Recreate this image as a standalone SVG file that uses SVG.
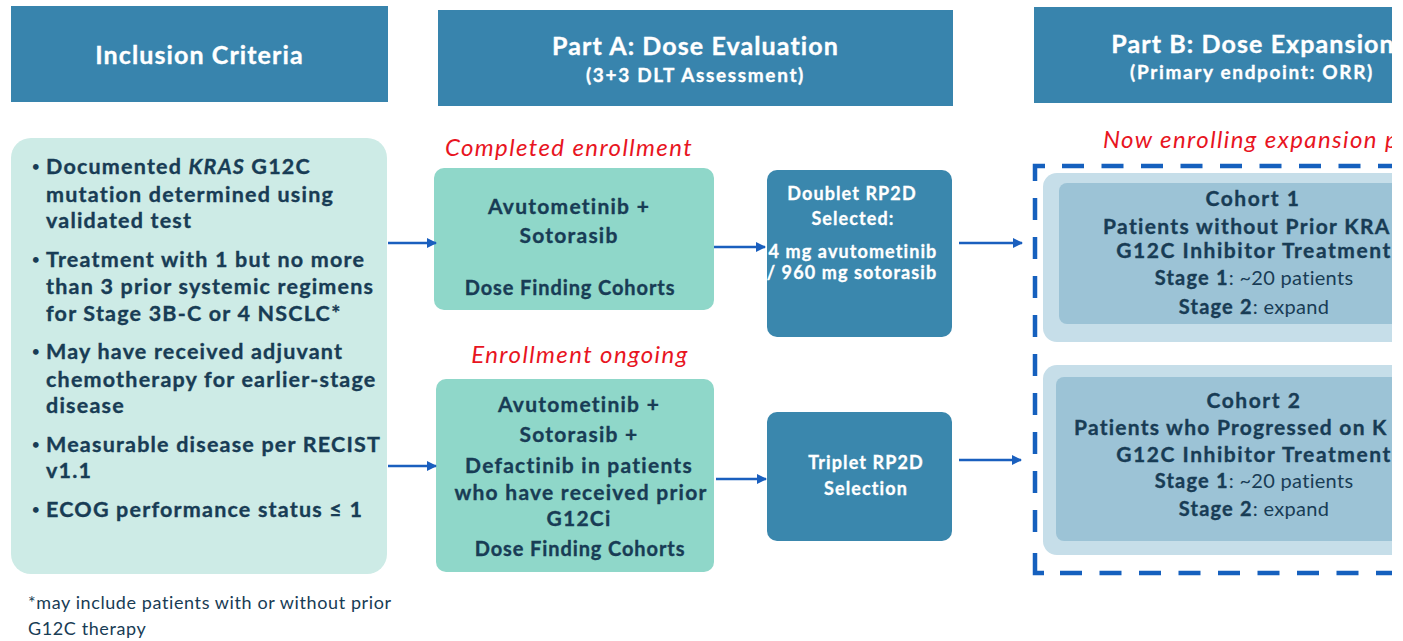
<svg xmlns="http://www.w3.org/2000/svg" width="1403" height="641" viewBox="0 0 1403 641">
<style>
.hdr{fill:#3884AD}
.hdrt{font-family:Lato,"Liberation Sans",sans-serif;font-weight:700;fill:#ffffff;text-anchor:middle;stroke:#ffffff;stroke-width:0.35px}
.h1{font-size:25px;letter-spacing:1.1px}
.h2{font-size:19px;letter-spacing:1.65px}
.t{font-family:Lato,"Liberation Sans",sans-serif;fill:#183C55}
.b{font-weight:700}
.c{text-anchor:middle}
.lb{font-size:21.5px;letter-spacing:1.2px;font-weight:700;stroke:#183C55;stroke-width:0.35px}
.bul{font-size:13px;font-weight:700}
.fn{font-size:18px;letter-spacing:0.6px}
.mb{font-size:21px;letter-spacing:1.25px;font-weight:700;text-anchor:middle;stroke:#183C55;stroke-width:0.35px}
.mbs{font-size:20px;letter-spacing:0.9px;font-weight:700;text-anchor:middle;stroke:#183C55;stroke-width:0.35px}
.w{fill:#ffffff;font-family:Lato,"Liberation Sans",sans-serif;font-weight:700;text-anchor:middle;font-size:18px;letter-spacing:1.1px;stroke:#ffffff;stroke-width:0.3px}
.red{font-family:Lato,"Liberation Sans",sans-serif;font-style:italic;fill:#E8151F;font-size:24px;letter-spacing:1.4px}
.cb{font-size:21px;letter-spacing:1.55px;font-weight:700;stroke:#183C55;stroke-width:0.35px}
.cs{font-size:20px;letter-spacing:0.3px;text-anchor:middle}
.cs tspan{font-weight:700;letter-spacing:1.2px;stroke:#183C55;stroke-width:0.35px}
.mint{fill:#8FD7C9}
.blue{fill:#3A87AD}
.conn{stroke:#1A5FBE;stroke-width:2.5;fill:none;marker-end:url(#ah)}
.dash{stroke:#1560BE;stroke-width:4.5;fill:none}
</style>
<defs>
<marker id="ah" viewBox="0 0 10 10" refX="9" refY="5" markerWidth="4" markerHeight="4" orient="auto" markerUnits="strokeWidth">
<path d="M0,0 L10,5 L0,10 z" fill="#1A5FBE"/>
</marker>
<clipPath id="clip"><rect x="0" y="0" width="1392" height="641"/></clipPath>
</defs>
<rect x="0" y="0" width="1403" height="641" fill="#ffffff"/>

<g id="header-inclusion">
<rect class="hdr" x="11" y="6" width="377" height="96"/>
<text class="hdrt h1" x="199.5" y="64">Inclusion Criteria</text>
</g>
<g id="header-partA">
<rect class="hdr" x="438" y="10" width="515" height="96"/>
<text class="hdrt h1" x="695.5" y="55">Part A: Dose Evaluation</text>
<text class="hdrt h2" x="695.5" y="82">(3+3 DLT Assessment)</text>
</g>
<g id="header-partB" clip-path="url(#clip)">
<rect class="hdr" x="1034" y="7" width="400" height="96"/>
<text class="hdrt h1" x="1253" y="53">Part B: Dose Expansion</text>
<text class="hdrt h2" x="1252" y="79">(Primary endpoint: ORR)</text>
</g>

<g id="inclusion-box">
<rect x="11" y="138" width="376" height="436" rx="20" fill="#CDEBE6"/>
<g class="t">
<text class="bul" x="32" y="171">•</text>
<text class="lb" x="46" y="174">Documented <tspan font-style="italic">KRAS</tspan> G12C</text>
<text class="lb" x="46" y="202">mutation determined using</text>
<text class="lb" x="46" y="228">validated test</text>
<text class="bul" x="32" y="264">•</text>
<text class="lb" x="46" y="267">Treatment with 1 but no more</text>
<text class="lb" x="46" y="294">than 3 prior systemic regimens</text>
<text class="lb" x="46" y="321">for Stage 3B-C or 4 NSCLC*</text>
<text class="bul" x="32" y="356">•</text>
<text class="lb" x="46" y="359">May have received adjuvant</text>
<text class="lb" x="46" y="387">chemotherapy for earlier-stage</text>
<text class="lb" x="46" y="413">disease</text>
<text class="bul" x="32" y="449">•</text>
<text class="lb" x="46" y="452">Measurable disease per RECIST</text>
<text class="lb" x="46" y="478">v1.1</text>
<text class="bul" x="32" y="514">•</text>
<text class="lb" x="46" y="517">ECOG performance status ≤ 1</text>
</g>
</g>
<g id="footnote">
<text class="t fn" x="28" y="609">*may include patients with or without prior</text>
<text class="t fn" x="28" y="635">G12C therapy</text>
</g>

<g id="label-completed">
<text class="red c" x="569" y="156">Completed enrollment</text>
</g>
<g id="doublet-cohorts">
<rect class="mint" x="434" y="168" width="280" height="142" rx="10"/>
<text class="t mb" x="569" y="214">Avutometinib +</text>
<text class="t mb" x="569" y="243">Sotorasib</text>
<text class="t mbs" x="570" y="295">Dose Finding Cohorts</text>
</g>
<g id="doublet-rp2d">
<rect class="blue" x="767" y="170" width="185" height="167" rx="10"/>
<text class="w" x="852" y="200">Doublet RP2D</text>
<text class="w" x="853" y="225">Selected:</text>
<text class="w" x="853" y="258">4 mg avutometinib</text>
<text class="w" x="852" y="279">/ 960 mg sotorasib</text>
</g>

<g id="label-ongoing">
<text class="red c" x="580" y="363">Enrollment ongoing</text>
</g>
<g id="triplet-cohorts">
<rect class="mint" x="436" y="379" width="278" height="193" rx="10"/>
<text class="t mb" x="579" y="412">Avutometinib +</text>
<text class="t mb" x="579" y="442">Sotorasib +</text>
<text class="t mb" x="579" y="473">Defactinib in patients</text>
<text class="t mb" x="581" y="500">who have received prior</text>
<text class="t mb" x="579" y="526">G12Ci</text>
<text class="t mbs" x="580" y="556">Dose Finding Cohorts</text>
</g>
<g id="triplet-rp2d">
<rect class="blue" x="767" y="412" width="185" height="129" rx="10"/>
<text class="w" x="866" y="469">Triplet RP2D</text>
<text class="w" x="866" y="495">Selection</text>
</g>

<g id="label-now-enrolling" clip-path="url(#clip)">
<text class="red" x="1103" y="148">Now enrolling expansion p</text>
</g>

<g id="expansion-frame" clip-path="url(#clip)">
<path class="dash" d="M1035,181 V166 H1045"/>
<path class="dash" d="M1062,166 H1400" stroke-dasharray="22 17.5"/>
<path class="dash" d="M1035,198 V540" stroke-dasharray="22 17"/>
<path class="dash" d="M1035,553 V573 H1044"/>
<path class="dash" d="M1060,573 H1400" stroke-dasharray="22 17.5"/>
</g>

<g id="cohort1" clip-path="url(#clip)">
<rect x="1043" y="173" width="420" height="169" rx="14" fill="#C6DEE9"/>
<rect x="1059" y="183" width="390" height="141" rx="8" fill="#9CC3D6"/>
<g class="t">
<text class="cb c" x="1253" y="206">Cohort 1</text>
<text class="cb" x="1103" y="234" textLength="288" lengthAdjust="spacing">Patients without Prior KRA</text>
<text class="cb c" x="1254" y="258">G12C Inhibitor Treatment</text>
<text class="cs" x="1254" y="285"><tspan>Stage 1</tspan>: ~20 patients</text>
<text class="cs" x="1254" y="314"><tspan>Stage 2</tspan>: expand</text>
</g>
</g>
<g id="cohort2" clip-path="url(#clip)">
<rect x="1043" y="365" width="420" height="190" rx="14" fill="#C6DEE9"/>
<rect x="1056" y="377" width="394" height="164" rx="8" fill="#9CC3D6"/>
<g class="t">
<text class="cb c" x="1254" y="408">Cohort 2</text>
<text class="cb" x="1074" y="435" textLength="314" lengthAdjust="spacing">Patients who Progressed on K</text>
<text class="cb c" x="1254" y="462">G12C Inhibitor Treatment</text>
<text class="cs" x="1254" y="488"><tspan>Stage 1</tspan>: ~20 patients</text>
<text class="cs" x="1254" y="516"><tspan>Stage 2</tspan>: expand</text>
</g>
</g>

<g id="connectors">
<path class="conn" d="M388,243 H436"/>
<path class="conn" d="M388,466 H436"/>
<path class="conn" d="M714,247 H765"/>
<path class="conn" d="M716,479 H766"/>
<path class="conn" d="M959,243 H1022"/>
<path class="conn" d="M959,460 H1021"/>
</g>
</svg>
